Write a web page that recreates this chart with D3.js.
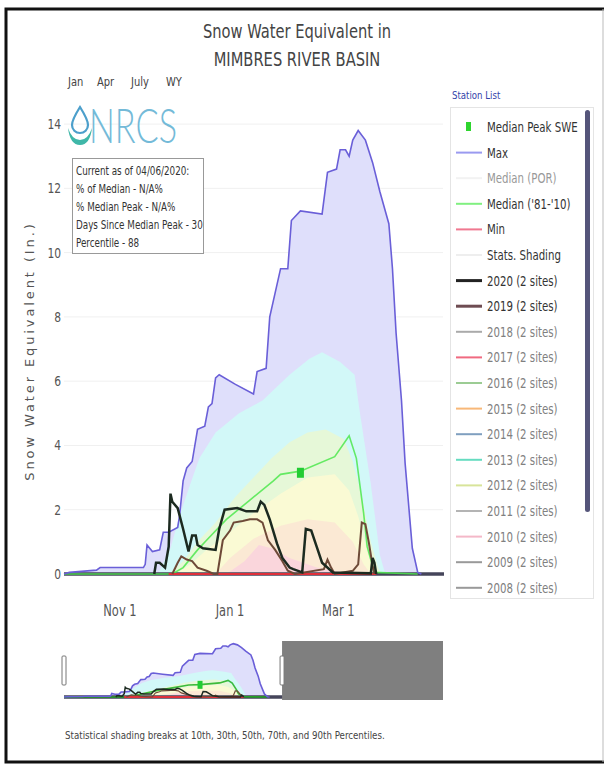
<html>
<head>
<script src="https://cdn.jsdelivr.net/npm/d3@7"></script>
<style>
body { margin: 0; background: #fff; }
text { font-family: "DejaVu Sans Condensed", "Liberation Sans Narrow", sans-serif; }
</style>
</head>
<body>
<div id="chart"></div>
<script>
// water year 2020, values are [day since Oct 1, SWE inches]
var wyStart = "2019-10-01"

var maxSwe = [[0,0],[3,0.05],[18,0.12],[20,0.2],[44,0.2],[45,0.3],[46,0.9],[49,0.7],[53,0.75],[55,1.3],[58,1.3],
	[63,1.45],[64,1.8],[66,2.9],[68,3.3],[71,3.5],[74,4.5],[78,4.6],[80,5.2],[82,5.3],[84,6.1],[86,6.2],[95,5.9],
	[105,5.6],[107,6.3],[112,6.4],[114,8.0],[120,9.5],[124,9.5],[126,11.0],[131,11.3],[143,11.2],[146,12.5],
	[151,12.6],[153,13.2],[156,13.2],[158,13.0],[160,13.5],[163,13.8],[167,13.5],[171,12.8],[175,11.9],
	[180,10.9],[182,9.5],[184,7.5],[187,5.4],[189,3.45],[193,0.8],[196,0.05],[198,0],[365,0]]
var p90 = [[52,0],[59,0.8],[64,1.8],[70,2.8],[75,3.6],[84,4.4],[97,5.0],[110,5.4],[125,6.2],[136,6.7],
	[143,6.9],[153,6.6],[161,6.2],[164,5.0],[170,2.8],[175,0.6],[178,0]]
var p70 = [[58,0],[66,0.4],[74,1.0],[84,1.6],[95,2.4],[105,3.0],[115,3.6],[125,4.1],[135,4.4],[145,4.5],
	[155,4.2],[160,3.5],[165,2.4],[170,1.0],[174,0.2],[176,0]]
var p50 = [[62,0],[70,0.3],[80,0.8],[92,1.3],[105,1.9],[120,2.5],[135,3.0],[150,3.1],[158,2.6],[163,1.8],
	[168,0.7],[172,0]]
var p30 = [[84,0],[92,0.5],[105,1.1],[120,1.5],[135,1.7],[150,1.6],[160,1.0],[166,0.3],[170,0]]
var p10 = [[90,0],[100,0.4],[108,0.9],[115,0.8],[125,0.5],[140,0.2],[150,0.1],[160,0]]
var median8110 = [[0,0],[60,0],[66,0.2],[74,0.75],[79,1.05],[90,1.7],[103,2.3],[116,2.9],[120,3.1],
	[131,3.2],[150,3.65],[158,4.3],[162,3.6],[166,1.9],[168,0.85],[172,0.05],[196,0]]
var minSwe = [[58,0],[173,0]]
var swe2020 = [[50,0],[51,0.35],[53,0.35],[56,0.2],[58,0.85],[59,2.5],[60,2.25],[63,2.05],[66,1.4],[69,0.7],
	[71,1.2],[73,1.2],[74,0.9],[77,0.8],[84,0.75],[86,1.4],[89,2.0],[96,2.05],[101,1.95],[107,1.95],
	[109,2.25],[111,2.15],[114,1.7],[118,0.95],[121,0.5],[125,0.2],[127,0.15],[132,0.05],[134,1.4],
	[137,1.35],[140,0.85],[143,0.35],[149,0.05],[170,0.02],[171,0.5],[172,0.35],[173,0]]
var swe2019 = [[60,0],[63,0.35],[65,0.55],[68,0.45],[71,0.4],[74,0.2],[79,0.1],[83,0],[85,0],[88,1.05],
	[92,1.35],[94,1.6],[99,1.65],[103,1.7],[107,1.7],[110,1.6],[113,1.05],[117,0.75],[121,0.4],[124,0.1],
	[128,0],[144,0.15],[146,0.45],[148,0.2],[150,0],[160,0.1],[163,0.3],[165,1.6],[167,1.55],[169,0.95],
	[171,0.25],[172,0]]
var medianPeak = [131, 3.15]

var yTicks = [0, 2, 4, 6, 8, 10, 12, 14]
var xTickDates = ["2019-11-01", "2020-01-01", "2020-03-01"]
var rangeButtons = ["Jan", "Apr", "July", "WY"]
var infoLines = ["Current as of 04/06/2020:", "% of Median - N/A%", "% Median Peak - N/A%",
	"Days Since Median Peak - 30", "Percentile - 88"]

var legendNames = ["Median Peak SWE", "Max", "Median (POR)", "Median ('81-'10)", "Min", "Stats. Shading",
	"2020 (2 sites)", "2019 (2 sites)", "2018 (2 sites)", "2017 (2 sites)", "2016 (2 sites)", "2015 (2 sites)",
	"2014 (2 sites)", "2013 (2 sites)", "2012 (2 sites)", "2011 (2 sites)", "2010 (2 sites)", "2009 (2 sites)",
	"2008 (2 sites)"]
var legendColors = ["#2ed52e", "#9a9af0", "#f2f2f2", "#80f080", "#f07890", "#eeeeee", "#222222", "#6e4c52",
	"#aaaaaa", "#f06a80", "#9ccc94", "#f8b878", "#7f9fbf", "#66dcc0", "#d8e49a", "#b4b4b4", "#f4b8c8",
	"#999999", "#999999"]
var legendOn = [1, 1, 0, 1, 1, 1, 1, 1, 0, 0, 0, 0, 0, 0, 0, 0, 0, 0, 0]

var shadeColors = ["#dfdffb", "#d2f8f8", "#e6f8d8", "#fafad4", "#fbe9d4", "#fad6dc"]

var start = d3.timeParse("%Y-%m-%d")(wyStart)
function dt(d) { return d3.timeDay.offset(start, d) }

var svg = d3.select("#chart").append("svg")
	.attr("width", 608).attr("height", 765)

svg.append("rect").attr("width", 608).attr("height", 765).style("fill", "#fff")

// narrow text: the original font is condensed, so squeeze horizontally
function label(g, x, y, s, size, fill, sx, anchor){
	return g.append("text")
		.attr("transform", "translate(" + x + "," + y + ") scale(" + sx + ",1)")
		.attr("text-anchor", anchor || "start")
		.style("font-size", size + "px").style("fill", fill)
		.text(s)
}

// frame
svg.append("path").attr("d", "M604,9 H6 V762 H604")
	.style("fill", "none").style("stroke", "#111").style("stroke-width", 3)
svg.append("line").attr("x1", 603).attr("x2", 603).attr("y1", 9).attr("y2", 762)
	.style("stroke", "#bbb").style("stroke-width", 1)

// title
label(svg, 297, 38, "Snow Water Equivalent in", 19, "#444", 0.86, "middle")
label(svg, 297, 66, "MIMBRES RIVER BASIN", 19, "#444", 0.86, "middle")

// range buttons
var btnX = [68, 97, 131, 166]
rangeButtons.forEach(function(b, i){
	label(svg, btnX[i], 86, b, 13, "#444", 0.85)
})

var x = d3.scaleTime().domain([start, dt(210)]).range([64, 443])
var y = d3.scaleLinear().domain([0, 14.5]).range([574, 108])
var xn = d3.scaleTime().domain([start, dt(365)]).range([64, 443])
var yn = d3.scaleLinear().domain([0, 14.5]).range([697, 641])

// grid
svg.append("g").selectAll("line").data(yTicks.slice(1)).enter().append("line")
	.attr("x1", 64).attr("x2", 443)
	.attr("y1", function(d){ return y(d) }).attr("y2", function(d){ return y(d) })
	.style("stroke", "#f0f0f0")

svg.append("defs").append("clipPath").attr("id", "clip")
	.append("rect").attr("x", 62).attr("y", 100).attr("width", 382).attr("height", 480)

function drawSeries(g, xs, ys, nav){
	var area = d3.area()
		.x(function(d){ return xs(dt(d[0])) })
		.y0(ys(0))
		.y1(function(d){ return ys(d[1]) })
	var line = d3.line()
		.x(function(d){ return xs(dt(d[0])) })
		.y(function(d){ return ys(d[1]) })

	var bands = [maxSwe, p90, p70, p50, p30, p10]
	bands.forEach(function(b, i){
		g.append("path").datum(b).attr("d", area).style("fill", shadeColors[i])
	})

	var w = nav ? 0.6 : 1
	g.append("path").datum([[0,0],[365,0]]).attr("d", line)
		.style("stroke", "#45455a").style("stroke-width", 3.5).style("fill", "none")
	g.append("path").datum(median8110).attr("d", line)
		.style("stroke", nav ? "#1fb01f" : "#4ee84e").style("stroke-width", 1.6).style("fill", "none")
		.style("stroke-opacity", 0.85)
	g.append("path").datum(minSwe).attr("d", line)
		.style("stroke", "#e0303a").style("stroke-width", 2).style("fill", "none")
	g.append("path").datum(maxSwe.slice(0, maxSwe.length - 1)).attr("d", line)
		.style("stroke", "#6a5fd8").style("stroke-width", 1.6).style("fill", "none")
	g.append("path").datum(swe2019).attr("d", line)
		.style("stroke", "#6e4a38").style("stroke-width", 2 * w).style("fill", "none")
	g.append("path").datum(swe2020).attr("d", line)
		.style("stroke", "#1c2a20").style("stroke-width", 2.5 * w).style("fill", "none")

	var mw = nav ? 5 : 7, mh = nav ? 8 : 10
	g.append("rect")
		.attr("x", xs(dt(medianPeak[0])) - mw / 2)
		.attr("y", ys(medianPeak[1]) - mh / 2)
		.attr("width", mw).attr("height", mh)
		.style("fill", "#22cc33")
}

var main = svg.append("g").attr("clip-path", "url(#clip)")
drawSeries(main, x, y, false)

// axes
yTicks.forEach(function(d){
	label(svg, 61, y(d) + 5, d, 14, "#555", 0.85, "end")
})
xTickDates.forEach(function(d){
	var t = d3.timeParse("%Y-%m-%d")(d)
	label(svg, x(t), 616, d3.timeFormat("%b %-d")(t), 15, "#555", 0.85, "middle")
})

svg.append("text").attr("transform", "translate(34,351) rotate(-90)")
	.attr("text-anchor", "middle")
	.style("font-family", "'DejaVu Sans', sans-serif")
	.style("font-size", "13px").style("letter-spacing", "2.9px").style("fill", "#555")
	.text("Snow Water Equivalent (In.)")

// NRCS logo
var logo = svg.append("g")
logo.append("path")
	.attr("d", "M80,107 C75,115 72,120 72,125 A8,8 0 0 0 88,125 C88,120 85,115 80,107 Z")
	.style("fill", "none").style("stroke", "#4c9fcb").style("stroke-width", 2.2)
logo.append("path")
	.attr("d", "M68,128 Q70,145 80,145 Q90,145 92,128 Q88,140 80,140 Q72,140 68,128 Z")
	.style("fill", "#3fb7a8")
logo.append("text").attr("x", 89).attr("y", 143)
	.attr("textLength", 88).attr("lengthAdjust", "spacingAndGlyphs")
	.style("font-family", "Lato, 'Open Sans', sans-serif").style("font-weight", 300)
	.style("font-size", "48px").style("fill", "#74bad8").text("NRCS")

// info box
svg.append("rect").attr("x", 72.5).attr("y", 158.5).attr("width", 131).attr("height", 95)
	.style("fill", "#fff").style("stroke", "#999")
infoLines.forEach(function(t, i){
	label(svg, 76, 175 + i * 18, t, 11.5, "#333", 0.85)
})

// legend
label(svg, 452, 99, "Station List", 11, "#3344aa", 0.87)
svg.append("rect").attr("x", 450.5).attr("y", 107.5).attr("width", 143).attr("height", 491)
	.style("fill", "none").style("stroke", "#e4e4e4")
svg.append("rect").attr("x", 585).attr("y", 110).attr("width", 5).attr("height", 402).attr("rx", 2.5)
	.style("fill", "#55557a")

var leg = svg.append("g").selectAll("g").data(legendNames).enter().append("g")
	.attr("transform", function(d, i){ return "translate(0," + (127 + i * 25.6) + ")" })
leg.each(function(d, i){
	var g = d3.select(this)
	if(i == 0){
		g.append("rect").attr("x", 466).attr("y", -5).attr("width", 5).attr("height", 9)
			.style("fill", legendColors[i])
	} else {
		g.append("line").attr("x1", 456).attr("x2", 482).attr("y1", 0).attr("y2", 0)
			.style("stroke", legendColors[i])
			.style("stroke-width", (i == 6 || i == 7) ? 3 : 2)
	}
	label(g, 487, 5, d, 14, legendOn[i] ? "#333" : (i == 2 ? "#999" : "#808080"), 0.81)
})

// navigator
var nav = svg.append("g")
drawSeries(nav, xn, yn, true)
nav.append("rect").attr("x", xn(dt(210))).attr("y", 641)
	.attr("width", 443 - xn(dt(210))).attr("height", 59)
	.style("fill", "#7f7f7f")
;[62, xn(dt(210)) - 2].forEach(function(hx){
	nav.append("rect").attr("x", hx).attr("y", 656).attr("width", 4).attr("height", 29)
		.attr("rx", 1).style("fill", "#fff").style("stroke", "#777")
})

label(svg, 65, 739, "Statistical shading breaks at 10th, 30th, 50th, 70th, and 90th Percentiles.",
	10.5, "#444", 0.92)
</script>
</body>
</html>
